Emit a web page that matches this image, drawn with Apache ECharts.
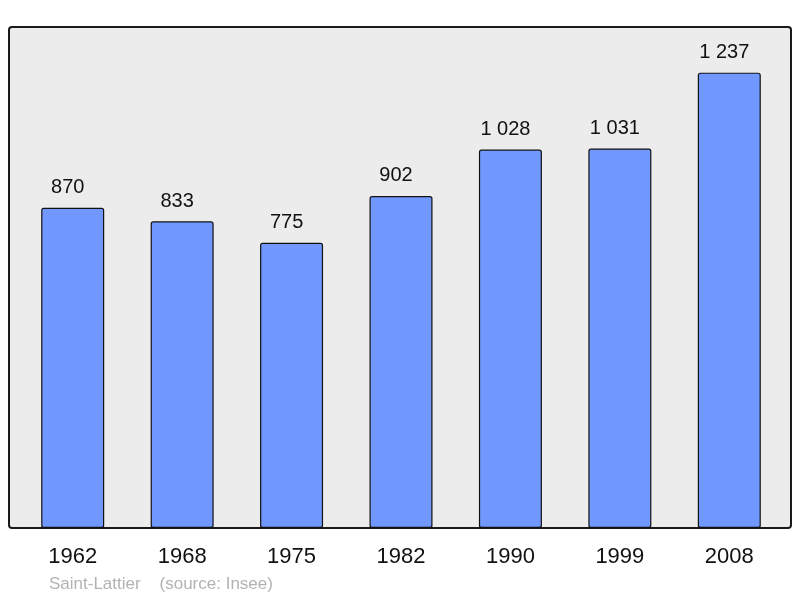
<!DOCTYPE html>
<html><head><meta charset="utf-8">
<script src="https://cdn.jsdelivr.net/npm/echarts@6/dist/echarts.min.js"></script>
<style>html,body{margin:0;padding:0;background:#fff}#c{width:800px;height:598px}</style>
</head><body><div id="c"></div>
<script>
const categories = ['1962','1968','1975','1982','1990','1999','2008'];
const population = [870, 833, 775, 902, 1028, 1031, 1237];
const title = 'Saint-Lattier';
const source = '(source: Insee)';

function fmt(v){ return String(v).replace(/\B(?=(\d{3})+(?!\d))/g, ' '); }

const chart = echarts.init(document.getElementById('c'), null, {renderer:'canvas'});
chart.setOption({
  animation:false,
  backgroundColor:'#ffffff',
  graphic:[
    {type:'rect', z:-10, shape:{x:9,y:27,width:782,height:501,r:3},
     style:{fill:'#ececec', stroke:'#1a1a1a', lineWidth:2}},
    {type:'text', left:49, top:576, style:{text:title + '    ' + source, fill:'#b3b3b3', font:'17px "Liberation Sans", Arial, sans-serif'}}
  ],
  grid:{left:18, right:16, top:27, bottom:70, containLabel:false},
  xAxis:{type:'category', data:categories,
    axisLine:{show:false}, axisTick:{show:false},
    axisLabel:{color:'#111', fontSize:22, fontFamily:'"Liberation Sans", Arial, sans-serif', margin:18}},
  yAxis:{type:'value', min:0, max:1361, show:false, splitLine:{show:false}},
  series:[{type:'bar', data:population, barWidth:63,
    itemStyle:{color:'#7198ff', borderColor:'#111', borderWidth:1.2, borderRadius:2},
    label:{show:true, position:'top', distance:10, offset:[-5,0], color:'#111', fontSize:20,
      fontFamily:'"Liberation Sans", Arial, sans-serif', formatter:p=>fmt(p.value)}}]
});
</script></body></html>
